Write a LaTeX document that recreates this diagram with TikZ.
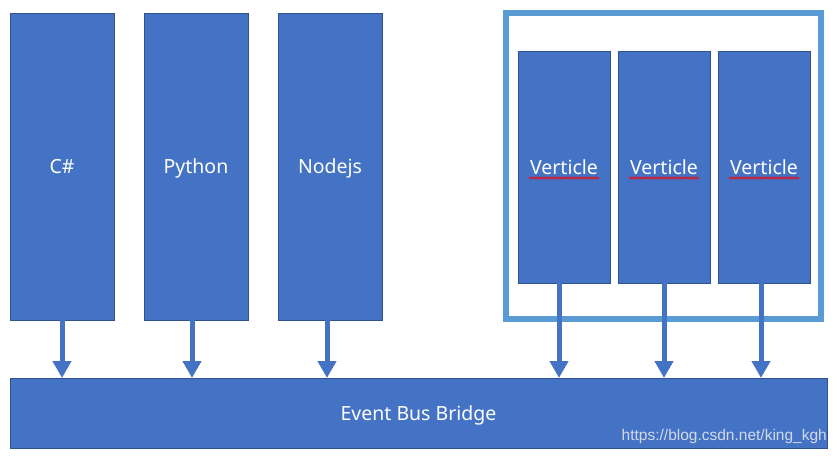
\documentclass[tikz,border=0pt]{standalone}
\usepackage{fontspec}
\setmainfont{Noto Sans}
\newfontfamily\wmfont{Liberation Sans}
\usetikzlibrary{arrows.meta,decorations.pathmorphing}
\definecolor{boxfill}{HTML}{4472C4}
\definecolor{boxline}{HTML}{2F528F}
\definecolor{framecol}{HTML}{5B9BD5}
\definecolor{wmcol}{HTML}{D2DAEA}
\tikzset{
  blk/.style={draw=boxline, fill=boxfill, line width=1pt, inner sep=0pt, outer sep=0pt, anchor=north west,
    text=white, font=\fontsize{19.5}{22}\selectfont, text depth=0pt},
  flow/.style={draw=boxfill, line width=5pt, -{Triangle[width=18pt,length=17pt]}},
  squiggle/.style={draw=red, line width=0.7pt, decorate, decoration={zigzag, amplitude=1pt, segment length=2.5pt}}
}
\begin{document}
\begin{tikzpicture}[x=1pt,y=-1pt]
\useasboundingbox (0,0) rectangle (837,455);
% outer frame
\node[draw=framecol, line width=6pt, inner sep=0pt, outer sep=0pt, anchor=north west, minimum width=315pt, minimum height=306pt] (frame) at (506,13) {};
% language boxes
\node[blk, minimum width=104pt, minimum height=307pt] (cs) at (10,13) {C\#};
\node[blk, minimum width=104pt, minimum height=307pt] (py) at (144,13) {Python};
\node[blk, minimum width=104pt, minimum height=307pt] (nj) at (278,13) {Nodejs};
% verticles
\node[blk, minimum width=92pt, minimum height=232pt] (v1) at (518,51) {Verticle};
\node[blk, minimum width=92pt, minimum height=232pt] (v2) at (618,51) {Verticle};
\node[blk, minimum width=92pt, minimum height=232pt] (v3) at (718,51) {Verticle};
% bus
\node[blk, minimum width=817pt, minimum height=70pt] (bus) at (10,378) {};
\node[text=white, font=\fontsize{19.5}{22}\selectfont, text depth=0pt] (bustext) at (bus.center) {Event Bus Bridge};
% spell-check squiggles
\foreach \v in {v1,v2,v3}{
  \draw[squiggle] ([xshift=-35pt,yshift=-11pt]\v.center) -- ([xshift=35pt,yshift=-11pt]\v.center);
}
% arrows
\draw[flow] ([xshift=0pt]cs.south) -- ([xshift=0pt]cs.south |- bus.north);
\draw[flow] ([xshift=-4pt]py.south) -- ([xshift=-4pt]py.south |- bus.north);
\draw[flow] ([xshift=-3pt]nj.south) -- ([xshift=-3pt]nj.south |- bus.north);
\draw[flow] ([xshift=-5pt]v1.south) -- ([xshift=-5pt]v1.south |- bus.north);
\draw[flow] ([xshift=0pt]v2.south) -- ([xshift=0pt]v2.south |- bus.north);
\draw[flow] ([xshift=-3pt]v3.south) -- ([xshift=-3pt]v3.south |- bus.north);
% watermark
\node[anchor=east, text=wmcol, font=\wmfont\fontsize{15.5}{18}\selectfont, inner sep=0pt] (wm) at (827,436) {https://blog.csdn.net/king\_kgh};
\end{tikzpicture}
\end{document}
